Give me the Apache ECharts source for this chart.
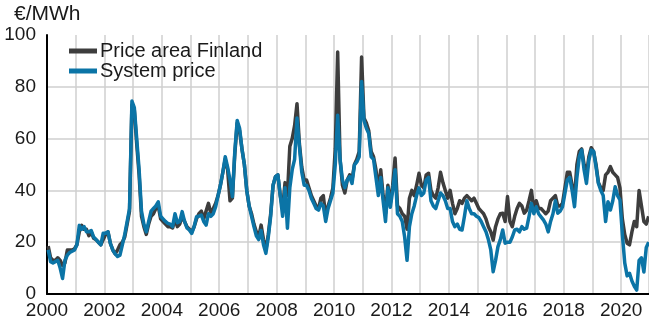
<!DOCTYPE html>
<html>
<head>
<meta charset="utf-8">
<title>Electricity price</title>
<script src="https://cdn.jsdelivr.net/npm/echarts@6/dist/echarts.min.js"></script>
<style>
  html, body { margin: 0; padding: 0; background: #fff; }
  #chart { width: 649px; height: 321px; }
</style>
</head>
<body>
<div id="chart"></div>
<script>
// Monthly average prices, €/MWh, January 2000 – December 2020 (12 values per row)
const startYear = 2000;

const finlandPrice = [
  18.5, 14, 13, 13, 14, 13, 11, 12, 17, 17, 17, 17.5,          // 2000
  19, 24, 26.5, 25, 25, 22.5, 24, 21.5, 21, 20, 19, 21,        // 2001
  23, 24, 19.5, 17, 15.5, 17, 19, 20, 22, 27, 32, 73,          // 2002
  71, 58, 46, 30, 26, 23, 27, 30, 31, 33, 34, 29,              // 2003
  28, 27, 26, 26, 25.5, 29, 26, 27, 30, 28, 26, 25,            // 2004
  24, 26, 29, 31, 32, 29, 32, 35, 31, 33, 35, 38,              // 2005
  42, 47, 52, 48, 36, 37, 54, 66, 63, 56, 50, 40,              // 2006
  34, 31, 27, 24, 22, 26.6, 21, 17, 23, 31, 42, 45.3,          // 2007
  46, 38, 33, 43, 38, 57, 60, 65, 73.5, 58, 49, 44,            // 2008
  44, 41, 38, 36, 34, 33, 37, 38, 30, 34, 37, 41,              // 2009
  56, 93.4, 52, 42, 39, 44, 46, 44, 50, 52, 55, 91.5,          // 2010
  68, 66, 63, 55, 53, 48, 40, 48, 38, 31, 42, 35,              // 2011
  42, 52.5, 34, 33, 31, 30, 25, 37, 40, 38, 42, 46.6,          // 2012
  42, 41, 46, 46.6, 40, 38, 37, 41, 47, 43, 40, 37,            // 2013
  40, 35, 31, 33, 36, 35, 37, 38, 37, 36, 37, 35,              // 2014
  33, 32, 31, 29, 26, 24, 20.8, 26, 29, 31, 31.2, 28,          // 2015
  37.6, 28, 26, 30, 33, 35, 34, 31.2, 32.4, 36, 40, 32.4,      // 2016
  36, 33, 33, 32, 31, 32, 36, 37, 38, 34, 34, 35,              // 2017
  41, 47, 47, 42, 37, 50, 55, 56, 50, 46, 53, 56.5,            // 2018
  55, 50, 43, 41, 40, 46, 47, 49.2, 47, 46, 45, 41,            // 2019
  29, 23, 19.6, 19, 24, 28, 26, 40, 34, 28, 27, 30             // 2020
];

const systemPrice = [
  17, 12.5, 12, 12.5, 13, 10, 6, 13, 15, 16, 16.5, 17,         // 2000
  19, 26.5, 25, 26, 24, 24, 24.5, 22, 21, 20, 19, 23.5,        // 2001
  23.5, 24, 19.5, 17, 15.5, 14.5, 15, 19, 23, 28, 33, 74.5,    // 2002
  72, 60, 48, 32, 27, 24, 28, 32, 33, 34, 35.6, 30,            // 2003
  29, 28, 27.3, 27, 26, 31, 27.5, 28, 31.8, 28, 25.5, 24.7,    // 2004
  23.4, 26, 29.8, 30, 30.5, 28, 26.6, 31, 30, 31, 33.7, 38,    // 2005
  42, 47, 53, 49, 44, 37.6, 55, 67, 64, 56, 50, 40,            // 2006
  34, 30, 26, 22.5, 21, 24.5, 19, 15.7, 22, 30, 42, 45.3,      // 2007
  46, 38, 30, 41, 25.4, 41, 48, 52, 68, 57, 47, 42,            // 2008
  42, 40, 37, 35, 33, 32.4, 35, 34, 28, 33, 36, 39,            // 2009
  50, 69, 52, 44, 41, 44, 45.3, 42.7, 49.8, 51, 53, 82,        // 2010
  67, 64, 62, 53, 52, 45, 38, 45, 36, 28, 41, 33.5,            // 2011
  40, 48, 31, 30, 28, 22, 13, 26, 31, 34, 38, 41,              // 2012
  38, 39, 44, 45, 36, 34, 33, 36, 39, 38, 36, 33,              // 2013
  33, 28, 26, 27, 25, 24.7, 30, 36, 33, 31, 31, 30,            // 2014
  29.5, 28, 26, 24, 21, 17, 8.6, 13, 18.3, 21, 24.7, 19.6,     // 2015
  20, 20, 22, 24.7, 25, 24, 26, 25, 25.4, 30, 35, 31,          // 2016
  33.7, 31, 29.8, 28.6, 27, 24, 28, 31, 36, 31.2, 32, 33.7,    // 2017
  38.9, 44, 45, 40, 33.7, 45, 53, 55.6, 48, 42.7, 51.7, 55.6,  // 2018
  55, 49, 42.7, 40, 38, 28, 35.6, 32.4, 36, 41.4, 38, 36.3,    // 2019
  23, 12, 7, 8, 5, 3, 1.5, 13, 14, 8.5, 18, 20                 // 2020
];

const seriesNames = ['Price area Finland', 'System price'];
const seriesColors = ['#3d3d3d', '#0b74a6'];
const unitLabel = '€/MWh';

// Each monthly value sits at the middle of its month on a decimal-year axis
function toPoints(values) {
  return values.map((v, i) => [startYear + (i + 0.5) / 12, v]);
}

const font = '"Liberation Sans", Arial, Helvetica, sans-serif';
const textColor = '#1a1a1a';

const chart = echarts.init(document.getElementById('chart'), null, { renderer: 'canvas' });

chart.setOption({
  animation: false,
  backgroundColor: '#ffffff',
  textStyle: { fontFamily: font },
  grid: { left: 47, right: 0, top: 35, bottom: 27, containLabel: false },
  graphic: [{
    type: 'text',
    left: 14,
    top: 4,
    style: { text: unitLabel, font: '21px ' + font, fill: textColor }
  }],
  legend: {
    data: seriesNames,
    orient: 'vertical',
    left: 69,
    top: 41,
    padding: 0,
    itemGap: 0,
    itemWidth: 28,
    itemHeight: 5,
    icon: 'rect',
    textStyle: { fontSize: 20, lineHeight: 19, color: textColor, fontFamily: font, padding: [0, 0, 0, -2] }
  },
  xAxis: {
    type: 'value',
    min: 2000,
    max: 2020.97,
    interval: 1,
    axisLine: { show: true, onZero: false, lineStyle: { color: '#000', width: 2 } },
    axisTick: { show: false },
    axisLabel: {
      color: textColor,
      fontSize: 19,
      fontFamily: font,
      margin: 7,
      showMaxLabel: false,
      formatter: v => (Number.isInteger(v) && v % 2 === 0) ? String(v) : ''
    },
    splitLine: { show: true, lineStyle: { color: '#cfcfcf', width: 1.5 } }
  },
  yAxis: {
    type: 'value',
    min: 0,
    max: 100,
    interval: 20,
    axisLine: { show: true, lineStyle: { color: '#000', width: 2 } },
    axisTick: { show: false },
    axisLabel: { color: textColor, fontSize: 19, fontFamily: font, margin: 11 },
    splitLine: {
      show: true,
      lineStyle: { color: ['#cfcfcf', '#cfcfcf', '#cfcfcf', '#cfcfcf', '#cfcfcf', 'rgba(0,0,0,0)'], width: 1.5 }
    }
  },
  series: [
    {
      name: seriesNames[0],
      type: 'line',
      data: toPoints(finlandPrice),
      showSymbol: false,
      color: seriesColors[0],
      lineStyle: { width: 3.5, color: seriesColors[0], join: 'round' },
      z: 2
    },
    {
      name: seriesNames[1],
      type: 'line',
      data: toPoints(systemPrice),
      showSymbol: false,
      color: seriesColors[1],
      lineStyle: { width: 3.5, color: seriesColors[1], join: 'round' },
      z: 3
    }
  ]
});
</script>
</body>
</html>
